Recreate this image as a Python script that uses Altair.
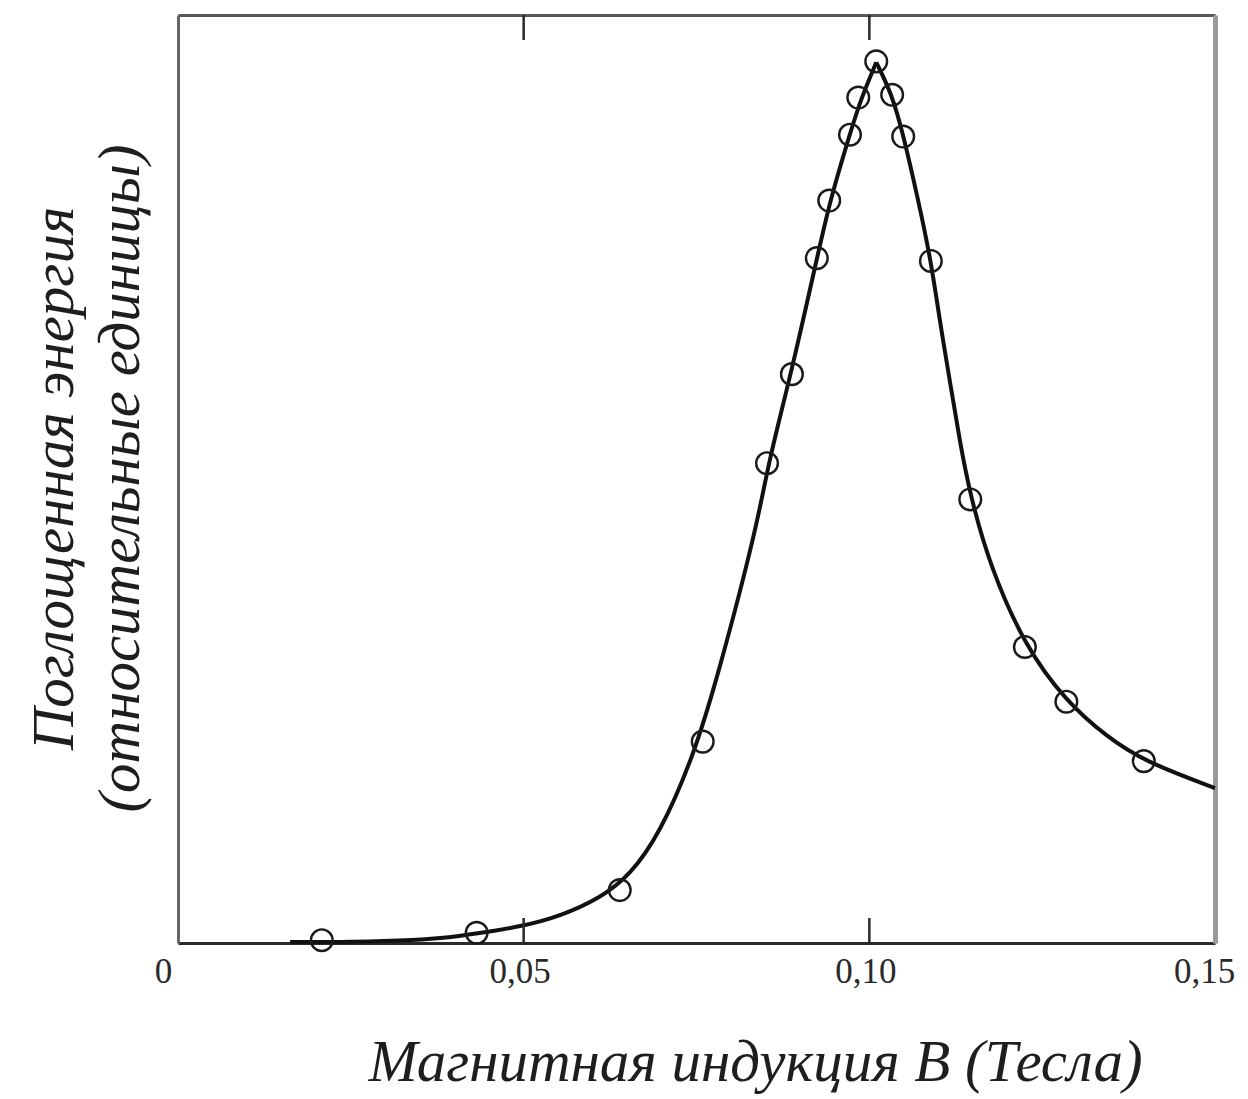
import altair as alt
import pandas as pd

# Experimental points (B in Tesla, absorbed energy in relative units)
pts_b = [0.0208, 0.0432, 0.0639, 0.0759, 0.0852, 0.0888, 0.0924, 0.0942,
         0.0972, 0.0984, 0.1010, 0.1033, 0.1049, 0.1089, 0.1146, 0.1225,
         0.1285, 0.1397]
pts_e = [0.003, 0.011, 0.057, 0.217, 0.517, 0.613, 0.738, 0.800,
         0.871, 0.911, 0.950, 0.914, 0.869, 0.735, 0.478, 0.319,
         0.260, 0.196]

# Fitted curve, rising side (up to the peak)
rise_b = [0.0162, 0.0249, 0.0346, 0.0393, 0.0431, 0.0499, 0.0553, 0.0610,
          0.0654, 0.0697, 0.0745, 0.0780, 0.0838, 0.0853, 0.0888, 0.0924,
          0.0943, 0.0972, 0.0987, 0.1010]
rise_e = [0.001, 0.001, 0.003, 0.006, 0.010, 0.018, 0.029, 0.048,
          0.073, 0.118, 0.200, 0.285, 0.450, 0.515, 0.617, 0.737,
          0.800, 0.872, 0.908, 0.949]
# Fitted curve, falling side (from the peak)
fall_b = [0.1010, 0.1033, 0.1049, 0.1070, 0.1089, 0.1102, 0.1117, 0.1131,
          0.1146, 0.1175, 0.1225, 0.1285, 0.1344, 0.1397, 0.1500]
fall_e = [0.949, 0.914, 0.871, 0.803, 0.736, 0.670, 0.603, 0.540,
          0.482, 0.405, 0.320, 0.260, 0.222, 0.196, 0.167]

tick_vals = [0.0, 0.05, 0.10, 0.15]
inner_ticks = [0.05, 0.10]

X_TITLE = "Магнитная индукция B (Тесла)"
Y_TITLE = ["Поглощенная энергия", "(относительные единицы)"]

FONT = "Liberation Serif"

pts = pd.DataFrame({"b": pts_b, "e": pts_e})
curve = pd.DataFrame({
    "b": rise_b + fall_b,
    "e": rise_e + fall_e,
    "side": ["rise"] * len(rise_b) + ["fall"] * len(fall_b),
})
ticks = pd.DataFrame({"b": inner_ticks})

xscale = alt.Scale(domain=[0, 0.15], nice=False, zero=False)
yscale = alt.Scale(domain=[0, 1.0], nice=False)

x_axis_bottom = alt.Axis(
    orient="bottom",
    values=tick_vals,
    labelExpr="datum.value == 0 ? '0' : replace(format(datum.value, '.2f'), '.', ',')",
    labelFont=FONT, labelFontSize=35, labelColor="#2a2a2a",
    labelPadding=11,
    labelOffset={"condition": [{"test": "datum.value == 0", "value": -15},
                               {"test": "datum.value > 0.14", "value": -11}],
                 "value": -4},
    labelFlush=False,
    ticks=False, grid=False,
    domainColor="#2a2a2a", domainWidth=3,
    title=X_TITLE, titleFont=FONT, titleFontStyle="italic",
    titleFontWeight="normal", titleFontSize=59, titleColor="#1e1e1e",
    titleX=577, titleY=137, titleAlign="center", titleBaseline="alphabetic",
)
y_axis_left = alt.Axis(
    orient="left", labels=False, ticks=False, grid=False,
    domainColor="#666666", domainWidth=3,
    title=Y_TITLE, titleFont=FONT, titleFontStyle="italic",
    titleFontWeight="normal", titleFontSize=59, titleColor="#1e1e1e",
    titleAngle=270, titleX=-106, titleY=463, titleAlign="center",
    titleBaseline="alphabetic", titleLineHeight=66,
)

line = alt.Chart(curve).mark_line(
    color="#111111", strokeWidth=4, interpolate="basis"
).encode(
    x=alt.X("b:Q", scale=xscale, axis=x_axis_bottom),
    y=alt.Y("e:Q", scale=yscale, axis=y_axis_left),
    detail="side:N",
)

points = alt.Chart(pts).mark_point(
    shape="circle", size=470, filled=False, color="#1a1a1a", strokeWidth=2.4,
    opacity=1,
).encode(
    x=alt.X("b:Q", scale=xscale,
            axis=alt.Axis(orient="top", labels=False, ticks=False, grid=False,
                          domainColor="#555555", domainWidth=3, title=None)),
    y=alt.Y("e:Q", scale=yscale,
            axis=alt.Axis(orient="right", labels=False, ticks=False, grid=False,
                          domainColor="#9a9a9a", domainWidth=5, title=None)),
)

bottom_ticks = alt.Chart(ticks).mark_rule(color="#2a2a2a", strokeWidth=2.5).encode(
    x=alt.X("b:Q", scale=xscale, axis=None),
    y=alt.value(928), y2=alt.value(903),
)
top_ticks = alt.Chart(ticks).mark_rule(color="#2a2a2a", strokeWidth=2.5).encode(
    x=alt.X("b:Q", scale=xscale, axis=None),
    y=alt.value(0), y2=alt.value(25),
)

chart = alt.layer(line, points, bottom_ticks, top_ticks).properties(
    width=1037, height=928,
    autosize=alt.AutoSizeParams(type="none"),
    padding={"left": 170, "top": 7, "right": 25, "bottom": 156},
    background="white",
).configure_view(stroke=None)

chart.save("out.html", embed_options={"renderer": "svg", "actions": False})
